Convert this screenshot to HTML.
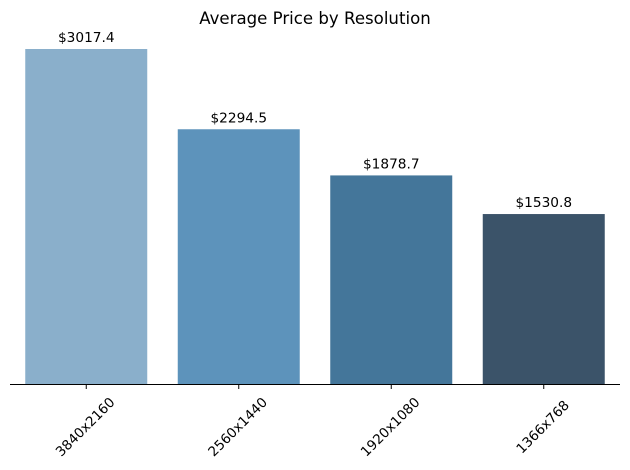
<!DOCTYPE html>
<html><head><meta charset="utf-8"><style>
body{margin:0;background:#fff}
svg{display:block;font-family:"DejaVu Sans","Liberation Sans",sans-serif}
</style></head><body>
<svg id="chart" width="630" height="470" viewBox="0 0 630 470">
<text x="315" y="24" text-anchor="middle" font-size="16.6">Average Price by Resolution</text>
<g id="bars"></g>
<line x1="10" y1="384.5" x2="620" y2="384.5" stroke="#000" stroke-width="1"/>
</svg>
<script>
const categories = ["3840x2160","2560x1440","1920x1080","1366x768"];
const values = [3017.4, 2294.5, 1878.7, 1530.8];
const valueLabels = ["$3017.4","$2294.5","$1878.7","$1530.8"];
const colors = ["#8aafcb","#5d93bb","#44769a","#3b5369"];
const x0=10, plotW=610, baseY=384, pxPerUnit=335/3017.4;
const step = plotW/categories.length, barW = step*0.8;
const xc = i => x0 + step*(i+0.5);
const yv = v => baseY - v*pxPerUnit;
const g = document.getElementById('bars');
const NS = "http://www.w3.org/2000/svg";
categories.forEach((c,i)=>{
  const r=document.createElementNS(NS,'rect');
  
  
  r.setAttribute('x',xc(i)-barW/2); r.setAttribute('width',barW);
  r.setAttribute('y',yv(values[i])); r.setAttribute('height',baseY-yv(values[i]));
  r.setAttribute('fill',colors[i]); g.appendChild(r);
  const t=document.createElementNS(NS,'text');
  
  
  t.setAttribute('x',xc(i)); t.setAttribute('y',yv(values[i])-7);
  t.setAttribute('text-anchor','middle'); t.setAttribute('font-size','13.7');
  t.textContent=valueLabels[i]; g.appendChild(t);
  const tk=document.createElementNS(NS,'line');
  
  
  tk.setAttribute('x1',xc(i)); tk.setAttribute('x2',xc(i));
  tk.setAttribute('y1',baseY); tk.setAttribute('y2',baseY+5);
  tk.setAttribute('stroke','#000'); g.appendChild(tk);
  const l=document.createElementNS(NS,'text');
  
  
  const cx=xc(i)-1, cy=427;
  l.setAttribute('x',cx); l.setAttribute('y',cy+4.5);
  l.setAttribute('text-anchor','middle'); l.setAttribute('font-size','13.5');
  l.setAttribute('transform','rotate(-45 '+cx+' '+cy+')');
  l.textContent=c; g.appendChild(l);
});
</script>
</body></html>
